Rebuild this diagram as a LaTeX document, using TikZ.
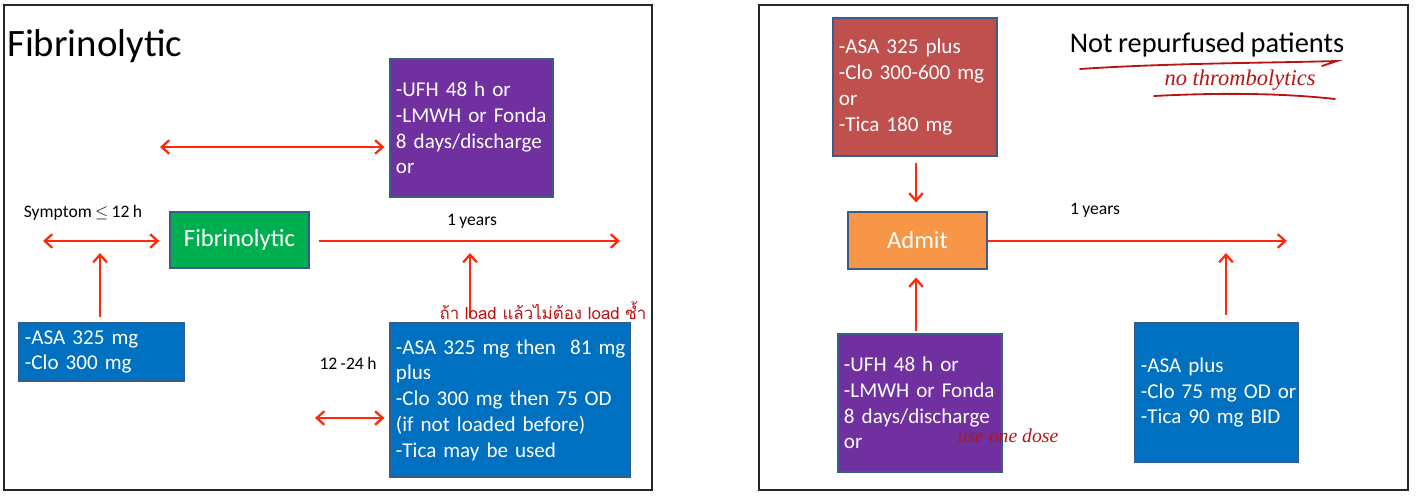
\documentclass[tikz,border=0pt]{standalone}
\usepackage{fontspec}
\setmainfont{Carlito}[WordSpace=0.85]
\newfontfamily\thaifont[Script=Thai]{Loma}
\newfontfamily\handfont{Liberation Serif}
\usetikzlibrary{arrows.meta, positioning}

\definecolor{ufhpurple}{HTML}{7030A0}
\definecolor{fibgreen}{HTML}{00B050}
\definecolor{asablue}{HTML}{0070C0}
\definecolor{loadred}{HTML}{C0504D}
\definecolor{admitorange}{HTML}{F79646}
\definecolor{boxline}{HTML}{385D8A}
\definecolor{arrowred}{RGB}{255,40,10}
\definecolor{handred}{HTML}{B81414}

\tikzstyle{box} = [rectangle, draw=boxline, line width=0.8pt, text=white, align=left, inner xsep=0.15cm, font=\fontsize{15}{18.3}\selectfont]
\tikzstyle{keybox} = [box, align=center, font=\fontsize{17.5}{20}\selectfont]
\tikzstyle{label} = [font=\fontsize{12.5}{15}\selectfont, inner sep=0pt]
\tikzstyle{hand} = [text=handred, inner sep=0pt]
\tikzstyle{frame} = [draw=black!85, line width=1.1pt]
\tikzstyle{arrow} = [line width=1.6pt, draw=arrowred, -{Straight Barb[length=1.9mm,width=3.4mm]}]
\tikzstyle{dblarrow} = [arrow, {Straight Barb[length=1.9mm,width=3.4mm]}-{Straight Barb[length=1.9mm,width=3.4mm]}]

\begin{document}
\begin{tikzpicture}[x=0.025cm, y=-0.025cm]
\useasboundingbox (0,0) rectangle (1419,497);

% left slide
\draw [frame] (4,5) rectangle (652,490);
\node (title) [anchor=base west, inner sep=0pt, font=\fontsize{27.6}{30}\selectfont] at (7,57) {Fibrinolytic};

\node (ufh1) [box, fill=ufhpurple, text width=3.775cm, minimum height=3.45cm] at (471.5,128) {-UFH 48 h or\\\mbox{-LMWH or Fonda}\\8 days/discharge\\or};
\node (fib) [keybox, fill=fibgreen, minimum width=3.475cm, minimum height=1.4cm] at (239.5,240) {Fibrinolytic};
\node (asa1) [box, fill=asablue, text width=3.825cm, minimum height=1.45cm] at (101.5,352) {-ASA 325 mg\\-Clo 300 mg};
\node (asa2) [box, fill=asablue, text width=5.7cm, minimum height=3.85cm] at (510,400) {\mbox{-ASA 325 mg then\ \ 81 mg}\\plus\\\mbox{-Clo 300 mg then 75 OD}\\(if not loaded before)\\-Tica may be used};

\node (sym) [label] at (83,213) {Symptom $\leq$ 12 h};
\node (yr1) [label] at (472,221) {1 years};
\node (hrs) [label] at (348,363) {12 -24 h};

\coordinate (top1) at (160,147);
\coordinate (sym0) at (43,241);
\coordinate (end1) at (620,241);
\coordinate (up1) at (470,318);
\coordinate (hrs0) at (315,418);

\draw [dblarrow, shorten >=0.125cm] (top1) -- (ufh1.west |- top1);
\draw [dblarrow, shorten >=0.25cm] (sym0) -- (fib.west |- sym0);
\draw [arrow, shorten <=0.225cm] (fib.east |- end1) -- (end1);
\draw [arrow, shorten <=0.125cm, shorten >=0.3cm] (asa1.north -| 100,0) -- (sym0 -| 100,0);
\draw [arrow, shorten >=0.3cm] (up1) -- (up1 |- end1);
\draw [dblarrow, shorten >=0.125cm] (hrs0) -- (asa2.west |- hrs0);

\node (note1) [hand, font=\thaifont\fontsize{12}{14}\selectfont] at (543,311) {ถ้า load แล้วไม่ต้อง load ซ้ำ};

% right slide
\draw [frame] (759,5) rectangle (1408,490);
\node (nrp) [inner sep=0pt, font=\fontsize{20.2}{24}\selectfont] at (1207,45) {Not repurfused patients};

\node (load2) [box, fill=loadred, text width=3.8cm, minimum height=3.45cm] at (915,87) {-ASA 325 plus\\\mbox{-Clo 300-600 mg}\\or\\-Tica 180 mg};
\node (admit) [keybox, fill=admitorange, minimum width=3.475cm, minimum height=1.425cm] at (917.5,240.5) {Admit};
\node (ufh2) [box, fill=ufhpurple, text width=3.8cm, minimum height=3.45cm] at (920,403) {-UFH 48 h or\\\mbox{-LMWH or Fonda}\\8 days/discharge\\or};
\node (asa3) [box, fill=asablue, text width=3.775cm, minimum height=3.475cm] at (1216.5,392.5) {-ASA plus\\\mbox{-Clo 75 mg OD or}\\-Tica 90 mg BID};

\node (yr2) [label] at (1095,210) {1 years};

\coordinate (end2) at (1287,241);
\coordinate (up2) at (1226,315);

\draw [arrow, shorten <=0.15cm, shorten >=0.225cm] (load2.south -| 916,0) -- (admit.north -| 916,0);
\draw [arrow] (admit.east |- end2) -- (end2);
\draw [arrow, shorten <=0.05cm, shorten >=0.2cm] (ufh2.north -| 916,0) -- (admit.south -| 916,0);
\draw [arrow, shorten >=0.3cm] (up2) -- (up2 |- end2);

% handwritten notes
\draw [handred, line width=1.3pt, line cap=round] (1080,69) .. controls (1170,63) and (1270,63) .. (1337,61) -- (1322,66);
\node (note2) [hand, font=\handfont\itshape\fontsize{16}{18}\selectfont] at (1240,80) {no thrombolytics};
\draw [handred, line width=1.3pt, line cap=round] (1154,96) .. controls (1230,92) and (1290,94) .. (1335,99);
\node (note3) [hand, font=\handfont\itshape\fontsize{14}{16}\selectfont] at (1008,436) {use one dose};
\end{tikzpicture}
\end{document}
